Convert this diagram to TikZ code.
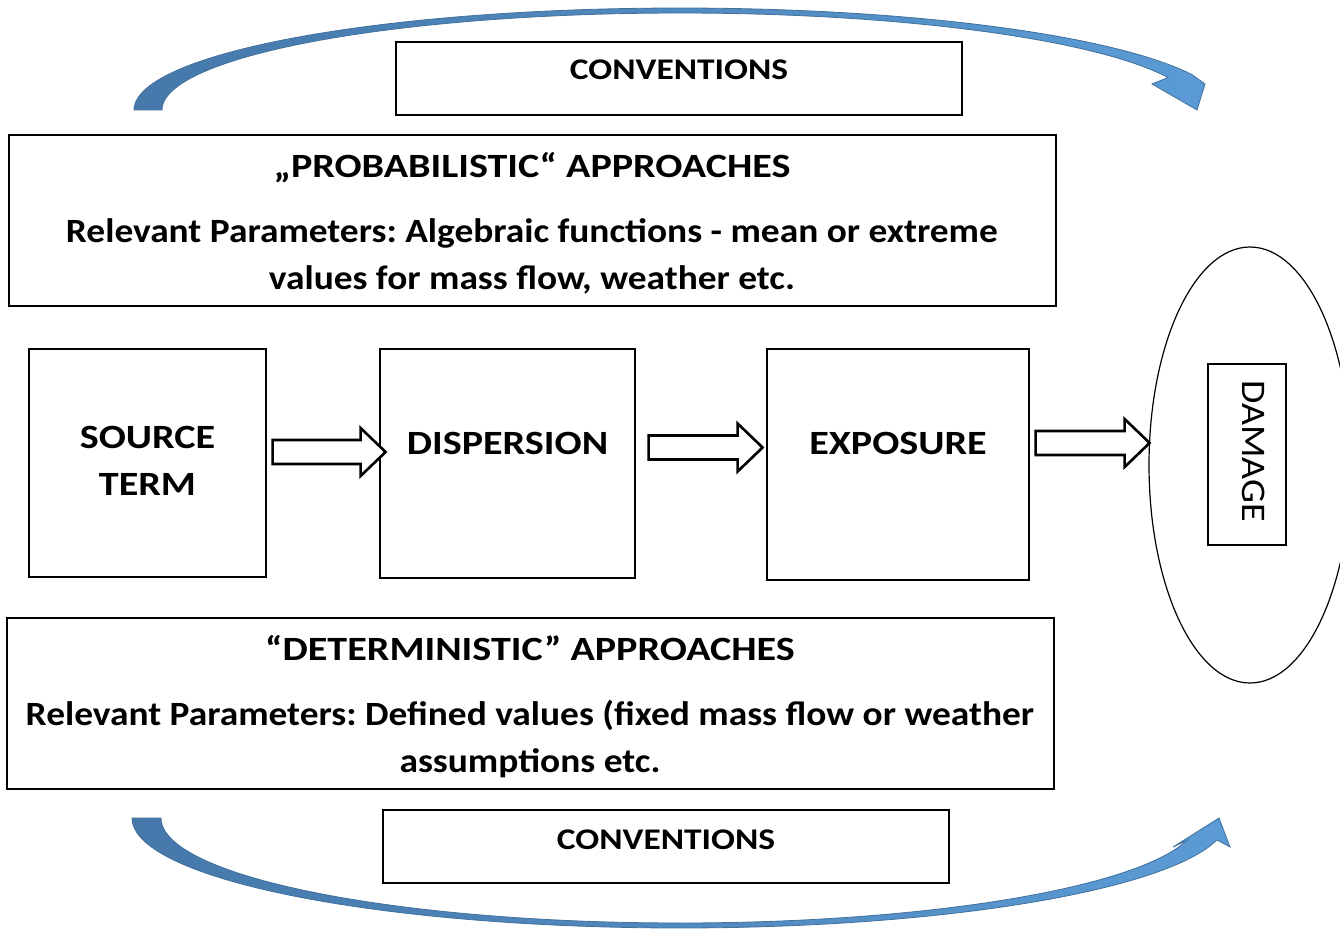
\documentclass[tikz,border=0pt]{standalone}
\usepackage{fontspec}
\setmainfont{Carlito}[FakeStretch=1.1]
\newfontfamily\capsfont{Carlito}[FakeStretch=1.18]
\usetikzlibrary{shapes.geometric,calc}
\frenchspacing

\definecolor{arrowdark}{RGB}{70,120,170}
\definecolor{arrowlight}{RGB}{91,155,213}
\definecolor{arrowedge}{RGB}{65,113,156}

\tikzset{
  box/.style={draw, line width=1.2pt, inner sep=0pt},
  lbl/.style={anchor=base, inner sep=0pt, font=\bfseries\fontsize{34}{40}\selectfont},
  capslbl/.style={anchor=base, inner sep=0pt, font=\capsfont\bfseries\fontsize{34}{40}\selectfont},
  conv/.style={anchor=base, inner sep=0pt, font=\capsfont\bfseries\fontsize{30}{36}\selectfont},
  blockarrow/.style={draw, line width=2.6pt, fill=white, line join=miter},
  bendarrow/.style={left color=arrowdark, right color=arrowlight, draw=arrowedge, line width=0.8pt},
  pics/hollowarrow/.style={code={
    \draw[blockarrow] (0,-12) -- (#1-25,-12) -- (#1-25,-24) -- (#1,0)
      -- (#1-25,24) -- (#1-25,12) -- (0,12) -- cycle;}}
}

\begin{document}
\begin{tikzpicture}[x=1pt, y=-1pt]
\useasboundingbox (0,0) rectangle (1340,931);

% upper curved arrow
\draw[bendarrow]
  plot[domain=180:339.7, samples=90] ({680+546*cos(\x)},{110+102*sin(\x)})
  -- (1205,84) -- (1197,110) -- (1152,84)
  -- plot[domain=340.4:180, samples=90] ({680+518*cos(\x)},{110+97*sin(\x)})
  -- cycle;

% lower curved arrow
\draw[bendarrow]
  plot[domain=180:11.5, samples=90] ({680+548*cos(\x)},{818+110*sin(\x)})
  -- (1230,847) -- (1219,818) -- (1173,847)
  -- plot[domain=12.3:180, samples=90] ({680+519*cos(\x)},{818+105*sin(\x)})
  -- cycle;

% conventions boxes
\node[box, minimum width=566, minimum height=73] (convT) at (679,78.5) {};
\node[conv] (convTt) at (679,80) {CONVENTIONS};
\node[box, minimum width=566, minimum height=73] (convB) at (666,846.5) {};
\node[conv] (convBt) at (666,849) {CONVENTIONS};

% probabilistic approaches
\node[box, minimum width=1047, minimum height=171] (prob) at (532.5,220.5) {};
\node[capslbl] (probA) at (532,177) {„PROBABILISTIC“ APPROACHES};
\node[lbl] (probB) at (532,242) {Relevant Parameters: Algebraic functions - mean or extreme};
\node[lbl] (probC) at (532,289) {values for mass flow, weather etc.};

% deterministic approaches
\node[box, minimum width=1047, minimum height=171] (det) at (530.5,703.5) {};
\node[capslbl] (detA) at (530,660) {“DETERMINISTIC” APPROACHES};
\node[lbl] (detB) at (530,725) {Relevant Parameters: Defined values (fixed mass flow or weather};
\node[lbl] (detC) at (530,772) {assumptions etc.};

% process chain
\node[box, minimum width=237, minimum height=228] (src) at (147.5,463) {};
\node[capslbl] (srcA) at (147.5,448) {SOURCE};
\node[capslbl] (srcB) at (147.5,495) {TERM};
\node[box, minimum width=255, minimum height=229] (disp) at (507.5,463.5) {};
\node[capslbl] (dispt) at (507.5,454) {DISPERSION};
\node[box, minimum width=262, minimum height=231] (expo) at (898,464.5) {};
\node[capslbl] (expot) at (898,454) {EXPOSURE};

% damage
\node[draw, line width=1.2pt, ellipse, minimum width=202, minimum height=436, inner sep=0pt] (dmg) at (1250,465) {};
\node[box, minimum width=78, minimum height=181] (dmgbox) at (1247,454.5) {};
\node[rotate=-90, anchor=base, inner sep=0pt, font=\fontsize{34.5}{40}\selectfont] (dmgt) at (1242,451) {DAMAGE};

% hollow arrows between the stages
\coordinate (a1) at ($(src.east)+(6,-11)$);
\coordinate (a2) at ($(disp.east)+(13,-16)$);
\coordinate (a3) at ($(expo.east)+(6,-21.5)$);
\pic at (a1) {hollowarrow=113};
\pic at (a2) {hollowarrow=114};
\pic at (a3) {hollowarrow=114};
\end{tikzpicture}
\end{document}
